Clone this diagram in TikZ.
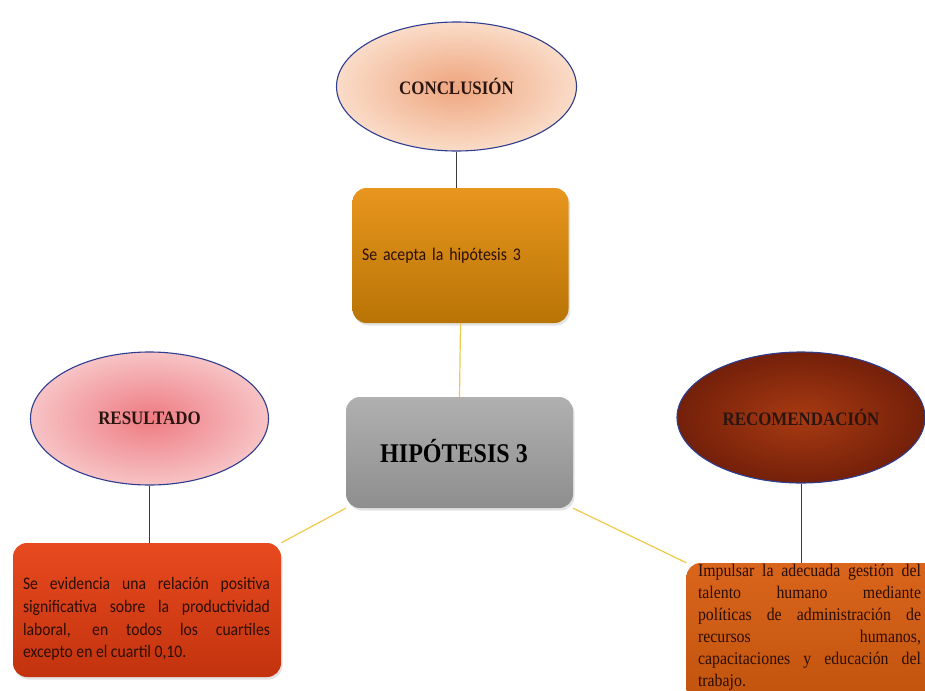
\documentclass[tikz,border=0pt]{standalone}
\usepackage{fontspec}
\setmainfont{Liberation Serif}
\newfontfamily\labelfont[FakeStretch=0.89]{Liberation Serif}
\newfontfamily\bodyserif[FakeStretch=0.89]{Liberation Serif}
\newfontfamily\bodysans[FakeStretch=0.89]{Carlito}
\usetikzlibrary{shapes.geometric,shadows}

\definecolor{ovalline}{HTML}{2E3D8F}
\definecolor{labelink}{HTML}{2A1510}
\definecolor{boxink}{HTML}{2B0E05}
\definecolor{stemgray}{HTML}{3A3A3A}
\definecolor{linkyellow}{HTML}{F2C94C}
\definecolor{conIn}{HTML}{EFA57E}
\definecolor{conOut}{HTML}{FADCC8}
\definecolor{resIn}{HTML}{EE7B82}
\definecolor{resOut}{HTML}{F7C3C5}
\definecolor{recIn}{HTML}{A83A12}
\definecolor{recOut}{HTML}{74200A}
\definecolor{accTop}{HTML}{E8961E}
\definecolor{accBot}{HTML}{B87405}
\definecolor{hypTop}{HTML}{B0B0B0}
\definecolor{hypBot}{HTML}{8E8E8E}
\definecolor{evTop}{HTML}{E84A1F}
\definecolor{evBot}{HTML}{C2330E}
\definecolor{impTop}{HTML}{DA651C}
\definecolor{impBot}{HTML}{BF520C}

\begin{document}
\begin{tikzpicture}[x=1pt,y=-1pt,
  oval/.style={ellipse, draw=ovalline, line width=1.1pt, shading=radial,
    inner sep=0pt, text=labelink, font=\labelfont\bfseries\fontsize{19}{22}\selectfont},
  card/.style={rectangle, rounded corners=14pt, draw=none, inner sep=0pt,
    drop shadow={opacity=0.22, shadow xshift=1.5pt, shadow yshift=-2.5pt}},
  cardtext/.style={inner sep=0pt, text=boxink},
  stem/.style={draw=stemgray, line width=0.9pt},
  link/.style={draw=linkyellow, line width=1.2pt}]

\useasboundingbox (0,0) rectangle (925,690);
\clip (0,0) rectangle (925,690);
\fill[white] (0,0) rectangle (925,690);

% ovals
\node[oval, inner color=conIn, outer color=conOut,
  minimum width=240pt, minimum height=129pt] (con) at (456.5,86.5) {CONCLUSIÓN};
\node[oval, inner color=resIn, outer color=resOut,
  minimum width=238pt, minimum height=133pt] (res) at (149.5,418.5) {RESULTADO};
\node[oval, inner color=recIn, outer color=recOut,
  minimum width=248pt, minimum height=131pt] (rec) at (801,417.5) {RECOMENDACIÓN};

% cards
\node[card, top color=accTop, bottom color=accBot,
  minimum width=216pt, minimum height=135pt] (acc) at (460.5,255.5) {};
\node[cardtext, text width=197pt, align=left,
  font=\bodysans\fontsize{17.8}{22}\selectfont] (acctxt) at (460.5,256)
  {Se acepta la hipótesis 3};

\node[card, top color=hypTop, bottom color=hypBot,
  minimum width=227pt, minimum height=111pt] (hyp) at (459.5,452.5) {};
\node[inner sep=0pt, text=black,
  font=\labelfont\bfseries\fontsize{27}{30}\selectfont] (hyptxt) at (454,451)
  {HIPÓTESIS 3};

\node[card, top color=evTop, bottom color=evBot,
  minimum width=268pt, minimum height=134pt] (ev) at (147,610) {};
\node[cardtext, text width=247pt, align=justify,
  font=\bodysans\fontsize{17.6}{22.7}\selectfont] (evtxt) at (146.5,619)
  {\tolerance=10000 Se evidencia una relación positiva\linebreak
   significativa sobre la productividad\linebreak
   laboral, en todos los cuartiles\linebreak
   excepto en el cuartil 0,10.};

\node[card, top color=impTop, bottom color=impBot,
  minimum width=262pt, minimum height=150pt] (imp) at (817.5,638) {};
\node[cardtext, text width=223pt, align=justify,
  font=\bodyserif\fontsize{17.8}{22}\selectfont] (imptxt) at (809.5,627.5)
  {\tolerance=10000 Impulsar la adecuada gestión del\linebreak
   talento humano mediante\linebreak
   políticas de administración de\linebreak
   recursos humanos,\linebreak
   capacitaciones y educación del\linebreak
   trabajo.};

% connectors
\draw[stem] (con.south) -- (con.south |- acc.north);
\draw[stem] (res.south) -- (res.south |- ev.north);
\draw[stem] (rec.south) -- (rec.south |- imp.north);
\draw[link] (acc.south) -- (hyp.north);
\draw[link] (hyp.south west) -- (ev.north east);
\draw[link] (hyp.south east) -- (imp.north west);
\end{tikzpicture}
\end{document}
